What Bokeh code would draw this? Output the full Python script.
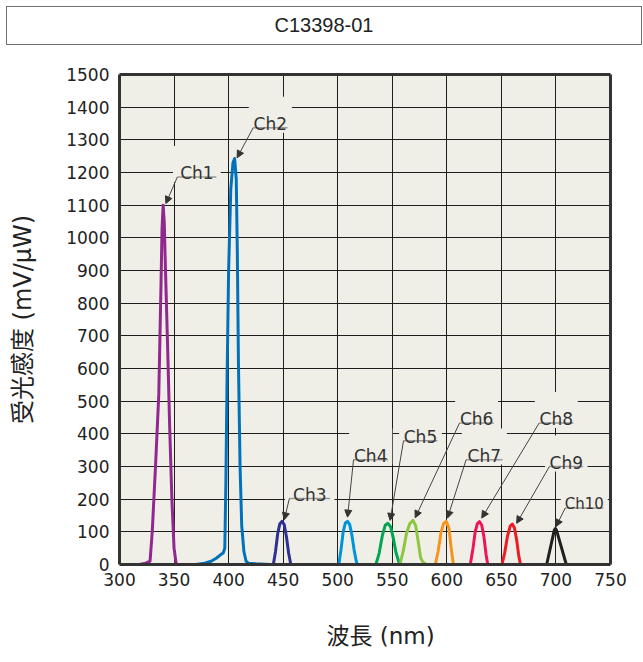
from bokeh.plotting import figure
from bokeh.layouts import column
from bokeh.models import (ColumnDataSource, FixedTicker, LinearAxis, Arrow,
                          NormalHead, Range1d, Title, Div)
from bokeh.core.properties import value
from bokeh.embed import file_html
from bokeh.resources import INLINE

# ---------------- data ----------------
chart_title = "C13398-01"
x_label = "波長 (nm)"
y_label = "受光感度 (mV/μW)"
x_ticks = [300, 350, 400, 450, 500, 550, 600, 650, 700, 750]
y_ticks = [0, 100, 200, 300, 400, 500, 600, 700, 800, 900, 1000, 1100, 1200, 1300, 1400, 1500]

ch1_wl = [318, 323, 328, 330, 333, 336, 338, 339, 340, 341, 342, 344, 346, 348, 350, 352]
ch1_val = [0, 3, 10, 100, 300, 520, 850, 1030, 1100, 1050, 920, 680, 420, 200, 50, 0]

ch2_wl = [370, 378, 384, 389, 392, 395, 396.5, 397.5, 398.5, 400, 402, 404, 405.5, 407, 408, 409, 410.5, 412, 414, 416, 418, 425, 438]
ch2_val = [0, 4, 10, 20, 28, 35, 50, 250, 550, 900, 1150, 1230, 1243, 1180, 950, 620, 300, 120, 40, 10, 4, 2, 0]

ch3_wl = [441, 443, 445, 447, 449, 451, 453, 455, 457]
ch3_val = [0, 40, 95, 125, 132, 122, 85, 35, 0]

ch4_wl = [501, 503, 505, 507, 509, 511, 513, 515, 517, 518]
ch4_val = [0, 45, 100, 127, 132, 122, 90, 45, 10, 0]

ch5_wl = [535, 538, 541, 543.5, 546, 548.5, 551, 553.5, 556, 558]
ch5_val = [0, 35, 90, 120, 126, 115, 80, 35, 8, 0]

ch6_wl = [557, 560, 563, 566, 569, 571.5, 574, 576, 578, 581]
ch6_val = [0, 40, 95, 125, 135, 118, 65, 20, 8, 0]

ch7_wl = [589.5, 592, 594.5, 597, 599.5, 602, 604, 606]
ch7_val = [0, 40, 95, 125, 132, 110, 50, 0]

ch8_wl = [621.5, 624, 626, 628, 630, 632, 634, 636, 637.5]
ch8_val = [0, 50, 100, 125, 131, 120, 85, 30, 0]

ch9_wl = [650.5, 653, 655.5, 658, 660, 662, 664, 666, 667.5]
ch9_val = [0, 35, 85, 117, 124, 112, 75, 25, 0]

ch10_wl = [691.5, 698.5, 699.5, 700.5, 709.5, 719]
ch10_val = [0, 105, 110, 105, 0, 0]

channel_names = ["Ch1", "Ch2", "Ch3", "Ch4", "Ch5", "Ch6", "Ch7", "Ch8", "Ch9", "Ch10"]
channel_colors = ["#92278f", "#0072bc", "#2e3192", "#0095da", "#00a651",
                  "#8dc63f", "#f7941d", "#ed145b", "#ed1c24", "#231f20"]

# callout layout (data coordinates)
call_x0 = [353, 422.5, 455.7, 514.5, 560.3, 611.6, 617.7, 684.6, 694, 708.5]
call_x1 = [388.8, 454, 493, 546, 591.4, 643, 651, 716, 725, 743.5]
call_y = [1186, 1337, 202, 321, 379, 433, 321, 433, 300, 173]
tip_x = [342.5, 407.8, 451, 509, 548, 571, 600.6, 632, 664, 700]
tip_y = [1105, 1245, 137, 145, 135, 143, 142, 142, 126, 116]

series = [(ch1_wl, ch1_val), (ch2_wl, ch2_val), (ch3_wl, ch3_val), (ch4_wl, ch4_val),
          (ch5_wl, ch5_val), (ch6_wl, ch6_val), (ch7_wl, ch7_val), (ch8_wl, ch8_val),
          (ch9_wl, ch9_val), (ch10_wl, ch10_val)]

BG = "#f0efe7"
FRAME = "#333333"
LATIN = "DejaVu Sans"
MIXED = "DejaVu Sans, Noto Sans CJK JP"
W = 641
TOP = 45              # page y where the plot starts (below the title box)
H = 660 - TOP

# ---------------- title box ----------------
head = Div(text=chart_title, width=636, height=39, margin=(6, 0, 0, 6),
           styles={"border": "1.5px solid #707070", "box-sizing": "border-box",
                   "background-color": "white", "font-family": "Liberation Sans, Arial, sans-serif",
                   "font-size": "20px", "color": "#222222", "text-align": "center",
                   "line-height": "36px"})

# ---------------- main plot ----------------
p = figure(width=W, height=H, x_range=Range1d(300, 750), y_range=Range1d(0, 1500),
           toolbar_location=None, output_backend="svg",
           min_border_left=119, min_border_right=W - 610, min_border_top=74 - TOP,
           min_border_bottom=660 - 564)
p.background_fill_color = BG
p.border_fill_color = "white"
p.outline_line_color = None

for ax in (p.xaxis[0], p.yaxis[0]):
    ax.axis_line_width = 3
    ax.axis_line_color = FRAME
    ax.major_tick_out = 0
    ax.major_tick_in = 0
    ax.minor_tick_line_color = None
    ax.major_label_text_font = LATIN
    ax.major_label_text_font_size = "17px"
    ax.major_label_text_color = "#222222"

p.xaxis[0].ticker = FixedTicker(ticks=x_ticks)
p.yaxis[0].ticker = FixedTicker(ticks=y_ticks)
p.xaxis[0].major_label_standoff = 8
p.yaxis[0].major_label_standoff = 10

p.yaxis[0].axis_label = y_label
p.yaxis[0].axis_label_text_font = MIXED
p.yaxis[0].axis_label_text_font_size = "24px"
p.yaxis[0].axis_label_text_font_style = "normal"
p.yaxis[0].axis_label_text_color = "#222222"
p.yaxis[0].axis_label_standoff = 26

for side in ("right", "above"):
    ea = LinearAxis(ticker=FixedTicker(ticks=[]), axis_line_width=3, axis_line_color=FRAME,
                    major_tick_line_color=None, minor_tick_line_color=None,
                    major_label_text_font_size="0px")
    p.add_layout(ea, side)

xt = Title(text=x_label, align="left", offset=207, standoff=0,
           padding=dict(left=0, right=0, top=32, bottom=0),
           text_font=MIXED, text_font_size="23px", text_font_style="normal",
           text_color="#222222")
p.add_layout(xt, "below")

p.xgrid.ticker = FixedTicker(ticks=x_ticks)
p.ygrid.ticker = FixedTicker(ticks=y_ticks)
for g in (p.xgrid[0], p.ygrid[0]):
    g.grid_line_color = "#1e1e1e"
    g.grid_line_width = 1

# label masks (hide grid behind callouts)
mask_src = ColumnDataSource(dict(
    left=[a - 4 for a in call_x0], right=[b + 4 for b in call_x1],
    bottom=[c - 15 for c in call_y], top=[c + 95 for c in call_y]))
p.quad(left="left", right="right", bottom="bottom", top="top", source=mask_src,
       fill_color=BG, line_color=None)

# curves
for (wl, val), col in zip(series, channel_colors):
    p.line(wl, val, line_color=col, line_width=3, line_join="round")

# underlines
p.segment(x0=call_x0, y0=call_y, x1=call_x1, y1=call_y, line_color="#9a9a9a", line_width=1.5)

# arrows
arr_src = ColumnDataSource(dict(xs=call_x0, ys=call_y, xe=tip_x, ye=tip_y))
p.add_layout(Arrow(end=NormalHead(size=7, fill_color="#333333", line_color="#333333"),
                   x_start="xs", y_start="ys", x_end="xe", y_end="ye", source=arr_src,
                   line_color="#444444", line_width=1))

# texts
cx = [(a + b) / 2 for a, b in zip(call_x0, call_x1)]
p.text(x=cx[:9], y=call_y[:9], text=channel_names[:9], text_align="center",
       text_baseline="alphabetic", y_offset=-4,
       text_font=value(LATIN), text_font_size="17px", text_color="#333333")
p.text(x=cx[9:], y=call_y[9:], text=channel_names[9:], text_align="center",
       text_baseline="alphabetic", y_offset=-4,
       text_font=value(LATIN), text_font_size="15px", text_color="#333333")

layout = column(head, p, spacing=0)
open("out.html", "w").write(file_html(layout, INLINE))
